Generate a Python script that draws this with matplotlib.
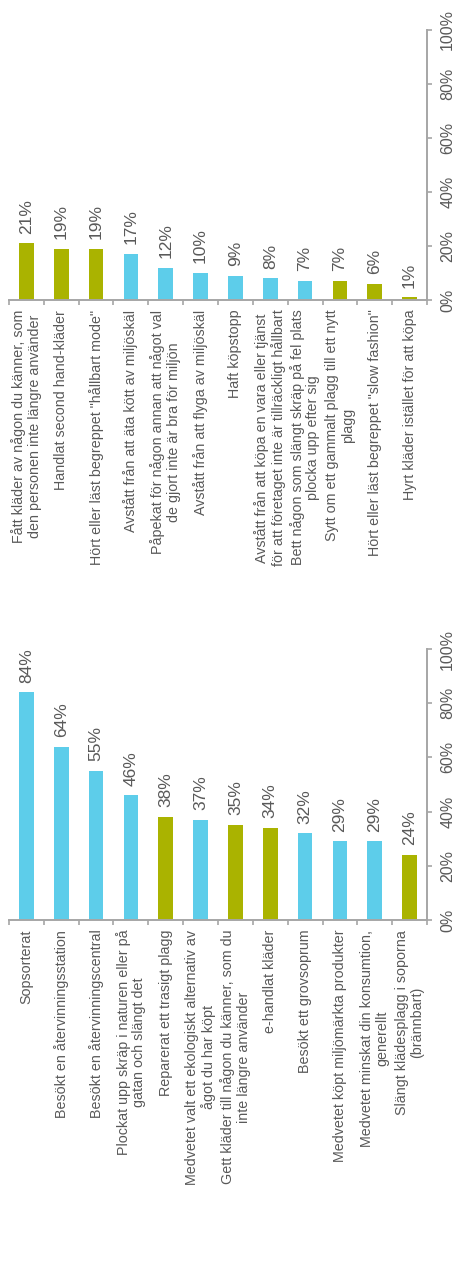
import matplotlib
import numpy as np

matplotlib.use("Agg")
import matplotlib.pyplot as plt

CYAN = "#5DCDEA"
OLIVE = "#AAB300"
GRAY_TEXT = "#595959"
GRAY_LINE = "#A6A6A6"

top_labels = [
    "Fått kläder av någon du känner, som\nden personen inte längre använder",
    "Handlat second hand-kläder",
    "Hört eller läst begreppet \"hållbart mode\"",
    "Avstått från att äta kött av miljöskäl",
    "Påpekat för någon annan att något val\nde gjort inte är bra för miljön",
    "Avstått från att flyga av miljöskäl",
    "Haft köpstopp",
    "Avstått från att köpa en vara eller tjänst\nför att företaget inte är tillräckligt hållbart",
    "Bett någon som slängt skräp på fel plats\nplocka upp efter sig",
    "Sytt om ett gammalt plagg till ett nytt\nplagg",
    "Hört eller läst begreppet \"slow fashion\"",
    "Hyrt kläder istället för att köpa",
]
top_values = [21, 19, 19, 17, 12, 10, 9, 8, 7, 7, 6, 1]
top_colors = ["o", "o", "o", "c", "c", "c", "c", "c", "c", "o", "o", "o"]

bottom_labels = [
    "Sopsorterat",
    "Besökt en återvinningsstation",
    "Besökt en återvinningscentral",
    "Plockat upp skräp i naturen eller på\ngatan och slängt det",
    "Reparerat ett trasigt plagg",
    "Medvetet valt ett ekologiskt alternativ av\något du har köpt",
    "Gett kläder till någon du känner, som du\ninte längre använder",
    "e-handlat kläder",
    "Besökt ett grovsoprum",
    "Medvetet köpt miljömärkta produkter",
    "Medvetet minskat din konsumtion,\ngenerellt",
    "Slängt klädesplagg i soporna\n(brännbart)",
]
bottom_values = [84, 64, 55, 46, 38, 37, 35, 34, 32, 29, 29, 24]
bottom_colors = ["c", "c", "c", "c", "o", "c", "o", "o", "c", "c", "c", "o"]

y_ticks = [0, 20, 40, 60, 80, 100]

plt.rcParams["font.family"] = ["Liberation Sans", "DejaVu Sans"]

W, H = 456, 1269
fig = plt.figure(figsize=(W / 100, H / 100), dpi=100)


def panel(rect, labels, values, colors):
    ax = fig.add_axes(rect)
    x = np.arange(len(labels))
    fills = [CYAN if c == "c" else OLIVE for c in colors]
    bars = ax.bar(x, values, width=0.42, color=fills, zorder=2)
    for bar, v in zip(bars, values):
        ax.annotate(
            f"{v}%",
            (bar.get_x() + bar.get_width() / 2, v),
            xytext=(0, 7),
            textcoords="offset points",
            rotation=90,
            ha="center",
            va="bottom",
            fontsize=12.5,
            color=GRAY_TEXT,
        )
    ax.set_xlim(-0.5, len(labels) - 0.5)
    ax.set_ylim(0, 100)
    for side in ("left", "top"):
        ax.spines[side].set_visible(False)
    for side in ("bottom", "right"):
        ax.spines[side].set_color(GRAY_LINE)
        ax.spines[side].set_linewidth(1.4)
    ax.set_xticks(x)
    ax.set_xticklabels(
        labels, rotation=90, ha="center", va="top", multialignment="center",
        fontsize=10.3, color=GRAY_TEXT, linespacing=1.15,
    )
    ax.set_xticks(np.arange(len(labels) + 1) - 0.5, minor=True)
    ax.tick_params(axis="x", which="major", length=0, pad=7)
    ax.tick_params(axis="x", which="minor", length=3.5, width=1.2,
                   color=GRAY_LINE, direction="out")
    ax.yaxis.tick_right()
    ax.set_yticks(y_ticks)
    ax.set_yticklabels([f"{t}%" for t in y_ticks], rotation=90,
                       va="center", ha="left", fontsize=11.5, color=GRAY_TEXT)
    ax.tick_params(axis="y", length=3.5, width=1.2, color=GRAY_LINE, pad=6)
    return ax


left = 9 / W
width = 418 / W
panel([left, 1 - 300 / H, width, 270 / H], top_labels, top_values, top_colors)
panel([left, 1 - 920 / H, width, 271 / H], bottom_labels, bottom_values, bottom_colors)

fig.savefig("out.png", dpi=100)
